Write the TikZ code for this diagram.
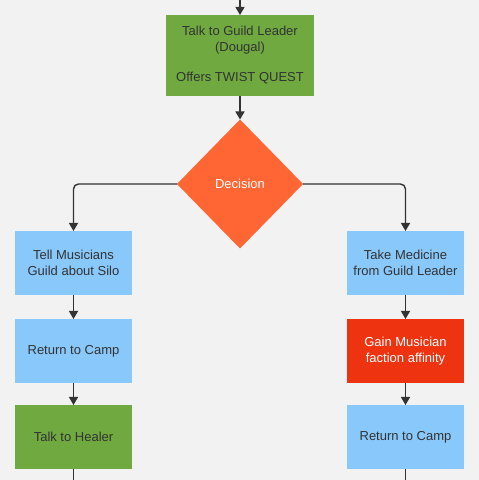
\documentclass[tikz,border=0pt]{standalone}
\usepackage{fontspec}
\setmainfont{Liberation Sans}
\usepackage{xcolor}
\usetikzlibrary{positioning,arrows.meta,shapes.geometric}
\definecolor{bggray}{HTML}{F2F2F2}
\definecolor{leafgreen}{HTML}{6FA940}
\definecolor{orange}{HTML}{FF6633}
\definecolor{skyblue}{HTML}{88C8FA}
\definecolor{alertred}{HTML}{EE3311}
\definecolor{ink}{HTML}{333333}

\begin{document}
\begin{tikzpicture}[x=1pt,y=1pt,font=\fontsize{13}{15.5}\selectfont,
    box/.style={minimum width=117pt,minimum height=64pt,inner sep=2pt,outer sep=0pt,align=center,text=ink},
    conn/.style={draw=ink,line width=1.4pt,rounded corners=5pt,-{Triangle[width=9pt,length=8pt]}},
    link/.style={draw=ink,line width=1.4pt}]
      \fill[bggray] (0,0) rectangle (479,480);
      \useasboundingbox (0,0) rectangle (479,480);
      % top of the quest line
      \coordinate (in) at (240,480);
      \node[box,fill=leafgreen,minimum width=148pt,minimum height=81pt] (guild) at (240,424.5) {
        Talk to Guild Leader\\(Dougal)\\[15pt]Offers TWIST QUEST
      };
      \node[diamond,fill=orange,minimum width=126pt,minimum height=129pt,inner sep=0pt,outer sep=0pt,text=white] (dec) at (240,296) {Decision};
      % left branch
      \node[box,fill=skyblue] (tell) at (73.5,217) {Tell Musicians\\Guild about Silo};
      \node[box,fill=skyblue,below=24pt of tell] (campL) {Return to Camp};
      \node[box,fill=leafgreen,below=22pt of campL] (healer) {Talk to Healer};
      \coordinate (outL) at (73.5,0);
      % right branch
      \node[box,fill=skyblue] (take) at (405.5,217) {Take Medicine\\from Guild Leader};
      \node[box,fill=alertred,text=white,below=24pt of take] (affin) {Gain Musician\\faction affinity};
      \node[box,fill=skyblue,below=22pt of affin] (campR) {Return to Camp};
      \coordinate (outR) at (405.5,0);

      \draw[conn] (in) -- (guild);
      \draw[conn] (guild) -- (dec);
      \draw[conn] (dec.west) -| (tell.north);
      \draw[conn] (dec.east) -| (take.north);
      \draw[conn] (tell) -- (campL);
      \draw[conn] (campL) -- (healer);
      \draw[link] (healer) -- (outL);
      \draw[conn] (take) -- (affin);
      \draw[conn] (affin) -- (campR);
      \draw[link] (campR) -- (outR);
    \end{tikzpicture}
\end{document}
